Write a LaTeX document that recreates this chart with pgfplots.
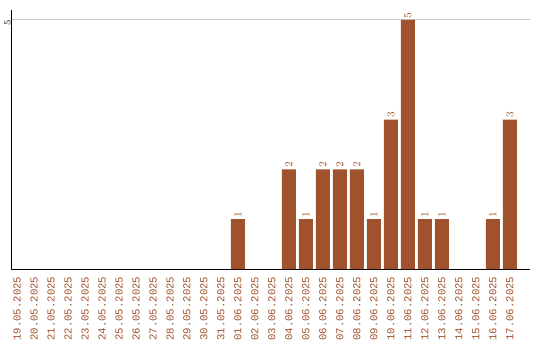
\documentclass[border=0pt]{standalone}
\usepackage{fontspec}
\setmainfont{Liberation Sans}
\newfontfamily\monof{Liberation Mono}
\usepackage{pgfplots}
\pgfplotsset{compat=1.18}
\definecolor{barbrown}{HTML}{A0522D}
\definecolor{gridgray}{HTML}{C8C8C8}
\begin{document}
\begin{tikzpicture}[x=1pt,y=1pt]
\useasboundingbox (0,0) rectangle (405,255);
\begin{axis}[
  at={(8.25pt,53.25pt)}, anchor=south west,
  scale only axis, width=389.25pt, height=194.25pt,
  xmin=-0.353, xmax=30.18, ymin=0, ymax=5.2,
  axis x line*=bottom, axis y line*=left,
  axis line style={black, line width=0.75pt, -},
  xtick={0,...,29},
  xticklabels={19.05.2025,20.05.2025,21.05.2025,22.05.2025,23.05.2025,24.05.2025,25.05.2025,26.05.2025,27.05.2025,28.05.2025,29.05.2025,30.05.2025,31.05.2025,01.06.2025,02.06.2025,03.06.2025,04.06.2025,05.06.2025,06.06.2025,07.06.2025,08.06.2025,09.06.2025,10.06.2025,11.06.2025,12.06.2025,13.06.2025,14.06.2025,15.06.2025,16.06.2025,17.06.2025},
  x tick label style={rotate=90, anchor=east, font=\monof\fontsize{8}{9}\selectfont, text=barbrown, inner sep=0pt, xshift=-5.5pt},
  ytick={5},
  y tick label style={rotate=90, anchor=south, font=\monof\fontsize{7}{8}\selectfont, inner sep=0pt, xshift=-2pt},
  ymajorgrids, grid style={gridgray, line width=0.75pt},
  major tick length=0pt,
  ybar, bar width=10.5pt, bar shift=0pt,
  nodes near coords,
  every node near coord/.append style={rotate=90, anchor=west, font=\monof\fontsize{8}{9}\selectfont, text=barbrown, inner sep=1pt},
  clip=false,
]
\addplot[fill=barbrown, draw=none] coordinates {
(13,1) (16,2) (17,1) (18,2) (19,2) (20,2) (21,1) (22,3) (23,5) (24,1) (25,1) (28,1) (29,3)
};
\end{axis}
\end{tikzpicture}
\end{document}
